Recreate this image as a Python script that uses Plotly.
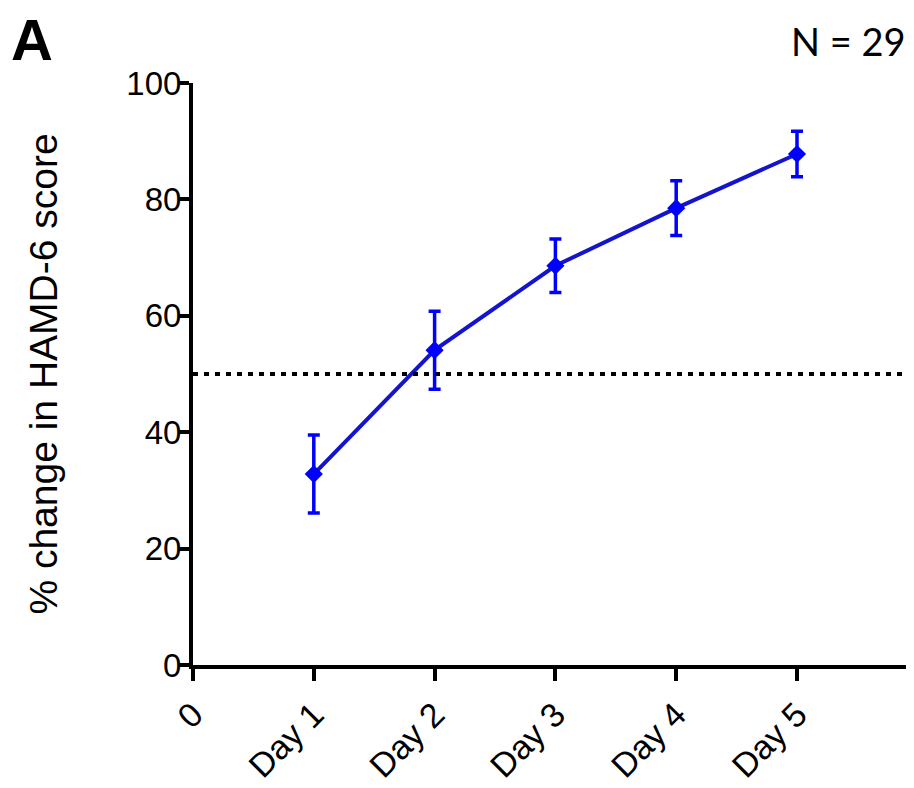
import plotly.graph_objects as go

# Data
days = [1, 2, 3, 4, 5]
tick_vals = [0, 1, 2, 3, 4, 5]
tick_text = ["0", "Day 1", "Day 2", "Day 3", "Day 4", "Day 5"]
pct_change = [32.8, 54.1, 68.6, 78.5, 87.8]
sem = [6.7, 6.7, 4.6, 4.7, 3.9]
threshold = 50
y_ticks = [0, 20, 40, 60, 80, 100]

# Layout geometry (page body has an 8px margin)
L, T, R, B = 185, 75, 8, 131
W, H = 914, 788
PW, PH = W - L - R, H - T - B

fig = go.Figure()

fig.add_trace(go.Scatter(
    x=days, y=pct_change,
    mode="lines",
    line=dict(color="#1414cc", width=4),
    showlegend=False, hoverinfo="skip",
))
fig.add_trace(go.Scatter(
    x=days, y=pct_change,
    mode="markers",
    marker=dict(symbol="diamond", size=14, color="#0000ff"),
    error_y=dict(type="data", array=sem, visible=True,
                 color="#0000ff", thickness=3.5, width=6),
    showlegend=False,
))

fig.add_shape(type="line", xref="paper", yref="y",
              x0=0, x1=1, y0=threshold, y1=threshold,
              line=dict(color="black", width=4, dash="5px,6px"))

fig.update_layout(
    width=W, height=H,
    margin=dict(l=L, r=R, t=T, b=B),
    paper_bgcolor="white", plot_bgcolor="white",
    font=dict(family="Liberation Sans, Arial, sans-serif", color="black"),
    xaxis=dict(
        range=[0, PW / 120.8],
        tickvals=tick_vals, ticktext=tick_text,
        tickangle=-45,
        tickfont=dict(size=34),
        ticks="outside", ticklen=12, tickwidth=4, tickcolor="black",
        showline=True, linewidth=4, linecolor="black",
        showgrid=False, zeroline=False,
    ),
    yaxis=dict(
        range=[0, 100],
        tickvals=y_ticks,
        tickfont=dict(size=33),
        ticks="outside", ticklen=11, tickwidth=4, tickcolor="black",
        ticklabelstandoff=-10,
        showline=True, linewidth=4, linecolor="black",
        showgrid=False, zeroline=False,
        title=dict(text="% change in HAMD-6 score", font=dict(size=39), standoff=58),
    ),
    annotations=[
        dict(text="<b>A</b>", xref="paper", yref="paper",
             x=-L / PW, y=1 + T / PH, xanchor="left", yanchor="top",
             xshift=1, yshift=3, showarrow=False,
             font=dict(size=58, family="Liberation Sans, Arial, sans-serif")),
        dict(text="N = 29", xref="paper", yref="paper",
             x=1, y=1 + T / PH, xanchor="right", yanchor="top",
             xshift=-6, yshift=-8, showarrow=False,
             font=dict(size=38, family="Lato, Open Sans, sans-serif")),
    ],
)

fig.write_html("out.html")
